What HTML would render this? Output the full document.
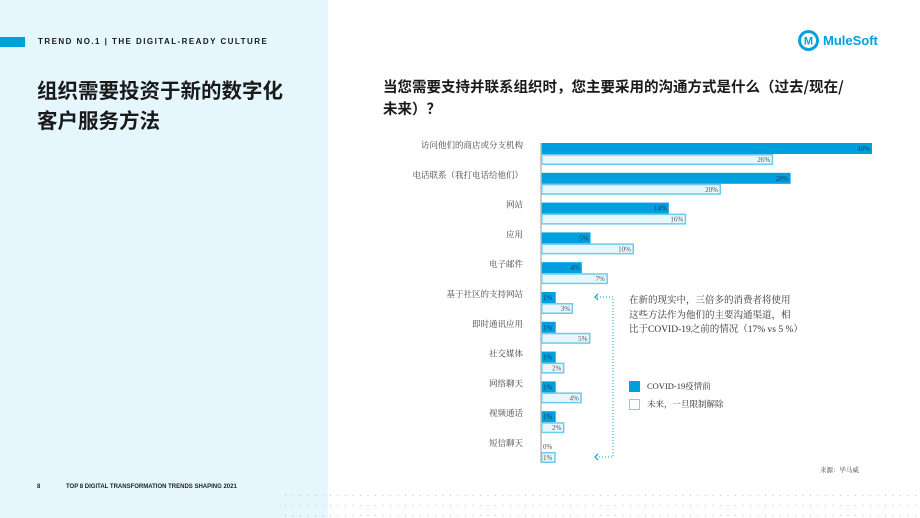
<!DOCTYPE html>
<html><head><meta charset="utf-8"><style>
*{margin:0;padding:0;box-sizing:border-box}
body{width:920px;height:518px;position:relative;background:#fff;font-family:"Liberation Sans","Noto Sans CJK SC",sans-serif;overflow:hidden}
.abs{position:absolute}
</style></head><body>
<div class="abs" style="left:0;top:0;width:328px;height:518px;background:#e6f6fd"></div>
<div class="abs" style="left:0;top:37px;width:25px;height:10px;background:#00a0df"></div>
<div class="abs" style="left:38px;top:37px;font-size:8px;font-weight:bold;letter-spacing:1.45px;color:#1a1a1a">TREND NO.1 | THE DIGITAL-READY CULTURE</div>
<div class="abs" style="left:37px;top:74px;font-family:'Noto Sans CJK SC',sans-serif;font-size:20.5px;font-weight:bold;line-height:30px;color:#1a1a1a">组织需要投资于新的数字化<br>客户服务方法</div>
<div class="abs" style="left:37px;top:484px;font-size:6px;font-weight:bold;color:#222">8</div>
<div class="abs" style="left:66px;top:484px;font-size:6px;font-weight:bold;color:#222">TOP 8 DIGITAL TRANSFORMATION TRENDS SHAPING 2021</div>
<svg class="abs" style="left:0;top:0" width="920" height="518">
<defs><pattern id="dp" x="285" y="495" width="7.5" height="10" patternUnits="userSpaceOnUse"><rect x="0" y="0" width="1" height="1" fill="#b8c8d0"/></pattern></defs>
<rect x="285" y="495" width="635" height="23" fill="url(#dp)"/></svg>
<div class="abs" style="left:797px;top:29px;display:flex;align-items:center">
<svg width="23" height="23"><circle cx="11.5" cy="11.5" r="10.5" fill="#00a0df"/><circle cx="11.5" cy="11.5" r="7.5" fill="#fff"/><text x="11.5" y="15.5" text-anchor="middle" font-size="11" font-weight="bold" fill="#00a0df" font-family="Liberation Sans">M</text></svg>
<span style="margin-left:3px;font-size:13px;font-weight:bold;color:#00a0df">MuleSoft</span></div>
<div class="abs" style="left:383px;top:76px;width:468px;font-family:'Noto Sans CJK SC',sans-serif;font-size:14.5px;font-weight:bold;line-height:22px;color:#1a1a1a">当您需要支持并联系组织时，您主要采用的沟通方式是什么（过去/现在/未来）？</div>
<svg class="abs" id="chart" style="left:0;top:0" width="920" height="518"></svg>
<div class="abs" style="left:629px;top:294px;width:170px;font-family:'Liberation Serif','Noto Serif CJK SC',serif;font-size:9.5px;line-height:14.5px;color:#333">在新的现实中，三倍多的消费者将使用这些方法作为他们的主要沟通渠道，相比于COVID-19之前的情况（17% vs 5 %）</div>
<div class="abs" style="left:629px;top:380px;display:flex;align-items:center;font-family:'Liberation Serif','Noto Serif CJK SC',serif;font-size:8.5px;color:#333"><span style="display:inline-block;width:11px;height:11px;background:#00a0df;margin-right:7px"></span>COVID-19疫情前</div>
<div class="abs" style="left:629px;top:398px;display:flex;align-items:center;font-family:'Liberation Serif','Noto Serif CJK SC',serif;font-size:8.5px;color:#333"><span style="display:inline-block;width:11px;height:11px;background:#fff;border:1.5px solid #7fd0f0;margin-right:7px"></span>未来，一旦限制解除</div>
<div class="abs" style="left:820px;top:465px;font-family:'Liberation Serif','Noto Serif CJK SC',serif;font-size:6.5px;color:#444">来源：毕马威</div>
<script>
const categories=["访问他们的商店或分支机构","电话联系（我打电话给他们）","网站","应用","电子邮件","基于社区的支持网站","即时通讯应用","社交媒体","网络聊天","视频通话","短信聊天"];
const before=[40,28,14,5,4,1,1,1,1,1,0];
const future=[26,20,16,10,7,3,5,2,4,2,1];
const svg=document.getElementById('chart');
const NS='http://www.w3.org/2000/svg';
const x0=541,y0=143,step=29.8,bh=11;
function xw(v){return v<=0?0:Math.min(331,6+8.7*v);}
function yr(i){return y0+i*step;}
function mk(t,a){const e=document.createElementNS(NS,t);for(const k in a)e.setAttribute(k,a[k]);svg.appendChild(e);return e;}
categories.forEach((c,i)=>{
  const y=yr(i);
  const lab=mk('text',{x:x0-18,y:y+5,'text-anchor':'end','font-size':8.5,fill:'#444','font-family':'Liberation Serif, Noto Serif CJK SC, serif'});
  lab.textContent=c;
  
  
  const w1=xw(before[i]);
  if(w1>0){const r=mk('rect',{x:x0,y:y,width:w1,height:bh,fill:'#00a0df'});
  
  }
  const t1=mk('text',{x:w1>20?x0+w1-2:x0+2,y:y+8,'text-anchor':w1>20?'end':'start','font-size':7,fill:w1>0?'#1a3a50':'#555','font-family':'Liberation Serif, serif'});
  t1.textContent=before[i]+'%';
  
  
  const w2=xw(future[i]);
  const r2=mk('rect',{x:x0+0.75,y:y+bh+0.75,width:w2-1.5,height:bh-1.5,fill:'#e8f6fd',stroke:'#6ccaf0','stroke-width':1.5});
  
  
  const t2=mk('text',{x:w2>20?x0+w2-3:x0+2,y:y+bh+8,'text-anchor':w2>20?'end':'start','font-size':7,fill:'#555','font-family':'Liberation Serif, serif'});
  t2.textContent=future[i]+'%';
  
  
});
const ax=mk('line',{x1:x0,y1:y0,x2:x0,y2:yr(categories.length-1)+2*bh,stroke:'#bbb','stroke-width':1.5});


const ya=yr(5)+5,yb=yr(10)+bh+5;
const br=mk('path',{d:`M597 ${ya} H613 V${yb} H597`,fill:'none',stroke:'#00a0df','stroke-width':1,'stroke-dasharray':'1 2'});


[ya,yb].forEach(yy=>{const a=mk('path',{d:`M598 ${yy-3} L595 ${yy} L598 ${yy+3}`,fill:'none',stroke:'#00a0df','stroke-width':1.2});

});
</script>
</body></html>
